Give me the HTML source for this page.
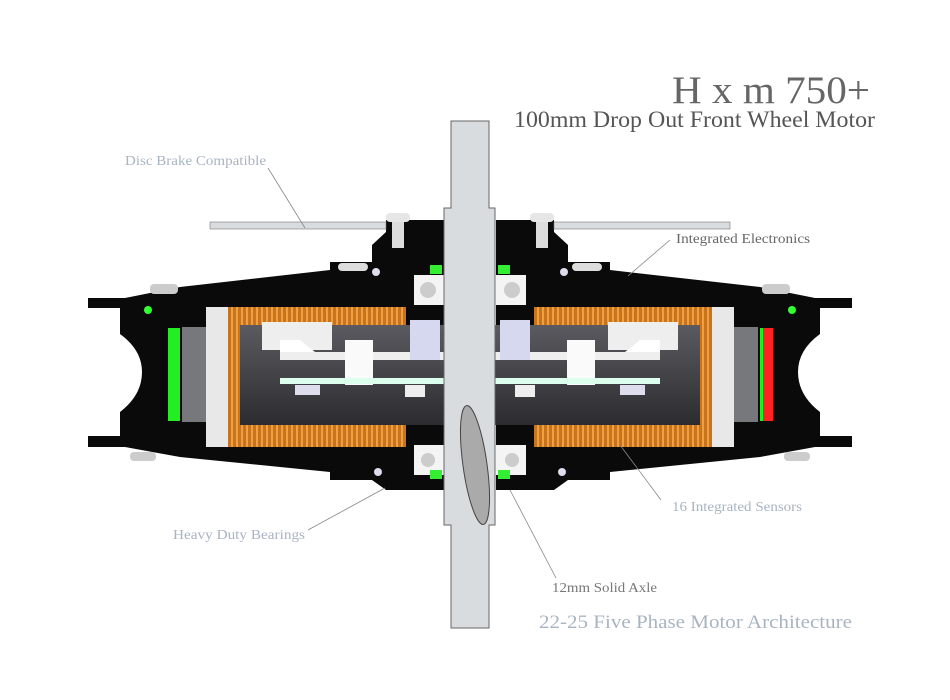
<!DOCTYPE html>
<html><head><meta charset="utf-8"><style>
html,body{margin:0;padding:0;background:#fff;}
svg{display:block;}
text{font-family:"Liberation Serif",serif;}
</style></head><body>
<svg width="950" height="700" viewBox="0 0 950 700" xmlns="http://www.w3.org/2000/svg">
<rect width="950" height="700" fill="#fff"/>
<defs>
<pattern id="cu" width="5" height="10" patternUnits="userSpaceOnUse">
<rect width="5" height="10" fill="#c8741e"/><rect x="1" width="2" height="10" fill="#f0a040"/>
</pattern>
<linearGradient id="core" x1="0" y1="0" x2="0" y2="1"><stop offset="0" stop-color="#5a5a60"/><stop offset="1" stop-color="#2c2c30"/></linearGradient>
<g id="half">
 <path d="M88,298 L125,298 L180,287 L330,270 L330,262 L372,262 L372,245 L386,232 L386,220 L444,220 L444,490 L386,490 L372,480 L330,480 L330,472 L180,457 L125,447 L88,447 L88,436 L120,436 L120,412 Q142,395 142,372 Q142,350 120,334 L120,308 L88,308 Z" fill="#0a0a0a"/>
 <rect x="150" y="284" width="28" height="10" rx="4" fill="#ccc"/>
 <rect x="130" y="452" width="26" height="9" rx="4" fill="#ccc"/>
 <circle cx="148" cy="310" r="4" fill="#3f3"/>
 <rect x="168" y="328" width="12" height="93" fill="#2e2"/>
 <rect x="182" y="327" width="26" height="95" fill="#77787c"/>
 <rect x="206" y="307" width="200" height="140" fill="url(#cu)"/>
 <rect x="206" y="307" width="22" height="140" fill="#e8e8e8"/>
 <rect x="240" y="325" width="205" height="100" fill="url(#core)"/>
 <rect x="262" y="322" width="70" height="28" fill="#eee"/>
 <polygon points="280,340 300,340 325,360 280,360" fill="#fff"/>
 <rect x="280" y="352" width="165" height="8" fill="#eee"/>
 <rect x="345" y="340" width="28" height="45" fill="#fafafa"/>
 <rect x="280" y="378" width="165" height="6" fill="#dfe"/>
 <rect x="295" y="385" width="25" height="10" fill="#dde"/>
 <rect x="405" y="385" width="20" height="12" fill="#eee"/>
 <rect x="410" y="320" width="30" height="40" fill="#d6d8ef"/>
 <rect x="414" y="275" width="30" height="30" fill="#f4f4f4"/>
 <circle cx="428" cy="290" r="8" fill="#ccc"/>
 <rect x="414" y="445" width="30" height="30" fill="#f4f4f4"/>
 <circle cx="428" cy="460" r="7" fill="#ccc"/>
 <rect x="430" y="265" width="12" height="9" fill="#3e3"/>
 <rect x="430" y="470" width="12" height="9" fill="#3e3"/>
 <circle cx="376" cy="272" r="4" fill="#dde"/>
 <circle cx="378" cy="472" r="4" fill="#dde"/>
 <rect x="338" y="263" width="30" height="8" rx="4" fill="#ddd"/>
 <rect x="392" y="222" width="12" height="26" fill="#ddd"/>
 <rect x="386" y="213" width="24" height="9" rx="4" fill="#e6e6e6"/>
 <rect x="210" y="222" width="176" height="7" fill="#d8dcdf" stroke="#777" stroke-width="0.6"/>
</g>
</defs>
<use href="#half"/>
<use href="#half" transform="translate(940,0) scale(-1,1)"/>
<rect x="763" y="328" width="10" height="93" fill="#f22"/>
<path d="M451,121 L489,121 L489,208 L495,208 L495,525 L489,525 L489,628 L451,628 L451,525 L444,525 L444,208 L451,208 Z" fill="#d9dcdf" stroke="#666" stroke-width="1"/>
<ellipse cx="475" cy="465" rx="12" ry="60" transform="rotate(-8 475 465)" fill="#aaa" stroke="#444"/>
<g stroke="#888" stroke-width="0.8">
<line x1="268" y1="168" x2="305" y2="228"/>
<line x1="670" y1="240" x2="628" y2="276"/>
<line x1="308" y1="530" x2="385" y2="488"/>
<line x1="661" y1="500" x2="620" y2="445"/>
<line x1="556" y1="578" x2="510" y2="490"/>
</g>
<text x="672" y="103" font-size="39" fill="#666" textLength="198" lengthAdjust="spacingAndGlyphs">H x m 750+</text>
<text x="514" y="127" font-size="23" fill="#555" textLength="361" lengthAdjust="spacingAndGlyphs">100mm Drop Out Front Wheel Motor</text>
<text x="125" y="165" font-size="14" fill="#a8b4c2" textLength="141" lengthAdjust="spacingAndGlyphs">Disc Brake Compatible</text>
<text x="676" y="243" font-size="14" fill="#666" textLength="134" lengthAdjust="spacingAndGlyphs">Integrated Electronics</text>
<text x="173" y="539" font-size="14" fill="#a8b4c2" textLength="132" lengthAdjust="spacingAndGlyphs">Heavy Duty Bearings</text>
<text x="672" y="511" font-size="14" fill="#a8b4c2" textLength="130" lengthAdjust="spacingAndGlyphs">16 Integrated Sensors</text>
<text x="552" y="592" font-size="14" fill="#777" textLength="105" lengthAdjust="spacingAndGlyphs">12mm Solid Axle</text>
<text x="539" y="628" font-size="19" fill="#a8b4c2" textLength="313" lengthAdjust="spacingAndGlyphs">22-25 Five Phase Motor Architecture</text>
</svg>
</body></html>
